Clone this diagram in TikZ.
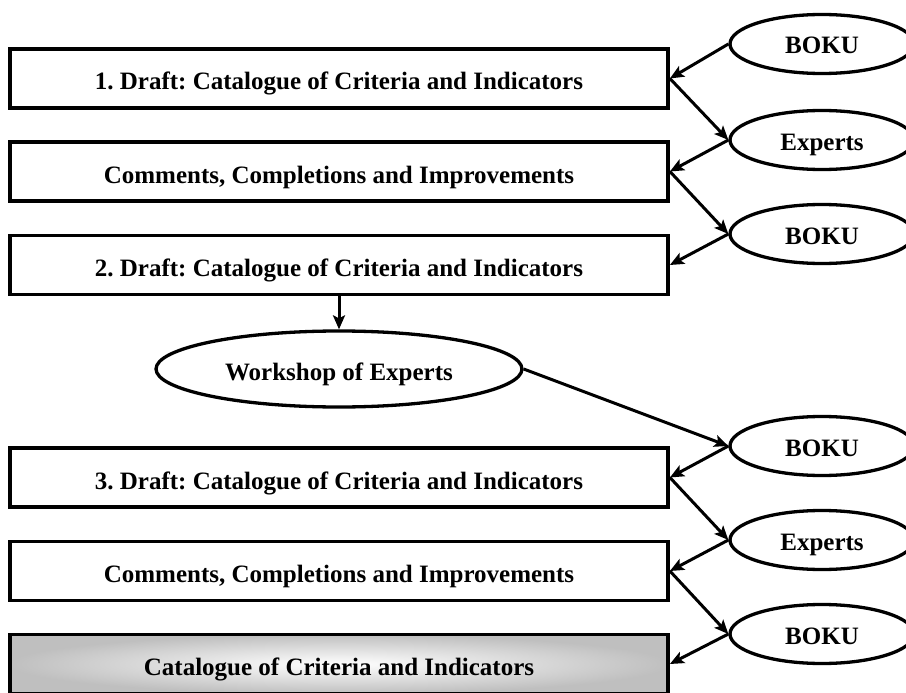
\documentclass[tikz,border=0pt]{standalone}
\usepackage{fontspec}
\setmainfont{Liberation Serif}
\usetikzlibrary{shapes.geometric,arrows.meta}
\frenchspacing

\begin{document}
\begin{tikzpicture}[x=1pt,y=-1pt,
  every node/.style={font=\bfseries\fontsize{25}{30}\selectfont},
  stagebox/.style={draw, rectangle, line width=3.8pt, minimum width=658pt,
    minimum height=59pt, inner sep=0pt, text height=23pt, text depth=0pt},
  actor/.style={draw, ellipse, line width=3.3pt, minimum width=184pt,
    minimum height=59pt, inner sep=0pt, text height=20pt, text depth=0pt},
  flow/.style={line width=3pt, -{Stealth[length=14pt,width=12pt,inset=3pt]}}]

\useasboundingbox (0,0) rectangle (906,693);
\fill[white] (0,0) rectangle (906,693);

% process stages
\node[stagebox] (b1) at (339,78.5)  {1. Draft: Catalogue of Criteria and Indicators};
\node[stagebox] (b2) at (339,171.5) {Comments, Completions and Improvements};
\node[stagebox] (b3) at (339,265)   {2. Draft: Catalogue of Criteria and Indicators};
\node[stagebox] (b4) at (339,477.5) {3. Draft: Catalogue of Criteria and Indicators};
\node[stagebox] (b5) at (339,571)   {Comments, Completions and Improvements};
\node[stagebox, inner color=white, outer color=black!25] (b6) at (339,664)
  {Catalogue of Criteria and Indicators};

% contributors
\node[actor] (e1) at (822,44)  {BOKU};
\node[actor] (e2) at (822,140) {Experts};
\node[actor] (e3) at (822,234) {BOKU};
\node[actor] (e4) at (822,446) {BOKU};
\node[actor] (e5) at (822,540) {Experts};
\node[actor] (e6) at (822,634) {BOKU};

\node[actor, minimum width=366pt, minimum height=76pt, text height=22pt] (w)
  at (339,369) {Workshop of Experts};

% exchanges
\draw[flow] (e1.west) -- (b1.east);
\draw[flow] (b1.east) -- (e2.west);
\draw[flow] (e2.west) -- (b2.east);
\draw[flow] (b2.east) -- (e3.west);
\draw[flow] (e3.west) -- (b3.east);
\draw[flow] (b3.south) -- (w.north);
\draw[flow] (w.east) -- (e4.west);
\draw[flow] (e4.west) -- (b4.east);
\draw[flow] (b4.east) -- (e5.west);
\draw[flow] (e5.west) -- (b5.east);
\draw[flow] (b5.east) -- (e6.west);
\draw[flow] (e6.west) -- (b6.east);
\end{tikzpicture}
\end{document}
